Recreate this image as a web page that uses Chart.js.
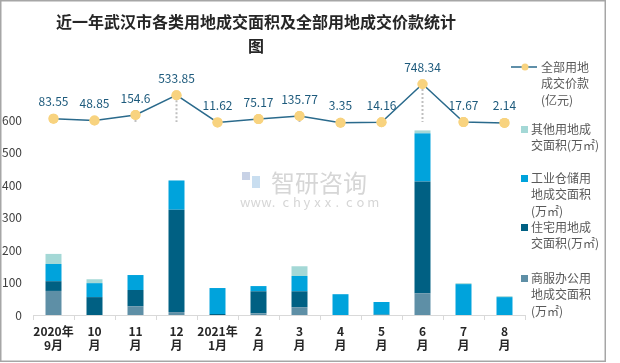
<!DOCTYPE html>
<html>
<head>
<meta charset="utf-8">
<script src="https://cdn.jsdelivr.net/npm/chart.js@4/dist/chart.umd.min.js"></script>
<style>
  body { margin: 0; background: #fff; }
  #wrap { width: 620px; height: 363px; position: relative; }
</style>
</head>
<body>
<div id="wrap"><canvas id="myChart" width="620" height="363"></canvas></div>
<script>
// categories
var months = [['2020年', '9月'], ['10', '月'], ['11', '月'], ['12', '月'], ['2021年', '1月'], ['2', '月'],
  ['3', '月'], ['4', '月'], ['5', '月'], ['6', '月'], ['7', '月'], ['8', '月']];
// land area (万㎡)
var shangfu = [74, 0, 27, 9, 0, 5, 24, 0, 0, 67, 0, 0];
var zhuzhai = [30, 55, 50, 315, 3, 68, 49, 0, 1, 344, 0, 0];
var gongye = [53, 43, 46, 90, 80, 16, 47, 64, 39, 148, 95, 55];
var qita = [31, 12, 0, 0, 0, 0, 30, 0, 0, 9, 3, 3];
// total price (亿元)
var jiakuan = [83.55, 48.85, 154.6, 533.85, 11.62, 75.17, 135.77, 3.35, 14.16, 748.34, 17.67, 2.14];

var FONT = '"Noto Sans CJK SC", "Noto Sans", sans-serif';

var legendItems = [
  { type: 'line', y: 67, lines: ['全部用地', '成交价款', '(亿元)'] },
  { color: '#a4d8d6', y: 129, lines: ['其他用地成', '交面积(万㎡)'] },
  { color: '#00a3dc', y: 178, lines: ['工业仓储用', '地成交面积', '(万㎡)'] },
  { color: '#006083', y: 227, lines: ['住宅用地成', '交面积(万㎡)'] },
  { color: '#5e8fa6', y: 278, lines: ['商服办公用', '地成交面积', '(万㎡)'] }
];

var extras = {
  id: 'extras',
  beforeDraw: function(chart) {
    var ctx = chart.ctx;
    ctx.save();
    // watermark
    ctx.fillStyle = '#d6d6d6';
    ctx.font = '24px ' + FONT;
    ctx.textBaseline = 'middle';
    ctx.textAlign = 'left';
    ctx.fillText('智研咨询', 271, 183);
    ctx.font = '13px ' + FONT;
    var w = 'www.chyxx.com'.split('');
    for (var i = 0; i < w.length; i++) ctx.fillText(w[i], 240 + i * 10.6, 202);
    ctx.fillStyle = '#c8d2e6';
    ctx.fillRect(242, 172, 8, 8);
    ctx.fillStyle = '#c9def0';
    ctx.fillRect(252, 176, 8, 12);
    ctx.restore();
  },
  afterDraw: function(chart) {
    var ctx = chart.ctx;
    ctx.save();
    // border
    ctx.strokeStyle = '#a6a6a6';
    ctx.lineWidth = 1.5;
    ctx.strokeRect(0.75, 0.75, 604.5, 360.5);
    // title
    ctx.fillStyle = '#262626';
    ctx.font = 'bold 16px ' + FONT;
    ctx.textAlign = 'center';
    ctx.textBaseline = 'middle';
    ctx.fillText('近一年武汉市各类用地成交面积及全部用地成交价款统计', 256, 22);
    ctx.fillText('图', 256, 46);

    // drop lines and value labels for the line
    var meta = chart.getDatasetMeta(0);
    var y1 = chart.scales.y1;
    var base = y1.getPixelForValue(0);
    meta.data.forEach(function(pt, i) {
      if (jiakuan[i] > 100) {
        ctx.strokeStyle = '#bfbfbf';
        ctx.lineWidth = 2;
        ctx.setLineDash([2, 2]);
        ctx.beginPath();
        ctx.moveTo(pt.x, pt.y + 5);
        ctx.lineTo(pt.x, base - 1);
        ctx.stroke();
        ctx.setLineDash([]);
      }
    });
    // redraw points above the drop lines
    meta.data.forEach(function(pt) {
      ctx.fillStyle = '#f8d37f';
      ctx.beginPath();
      ctx.arc(pt.x, pt.y, 5, 0, Math.PI * 2);
      ctx.fill();
    });
    ctx.fillStyle = '#1d5a7c';
    ctx.font = '12px ' + FONT;
    meta.data.forEach(function(pt, i) {
      ctx.fillText(String(jiakuan[i]), pt.x, pt.y - 17);
    });

    // legend
    ctx.textAlign = 'left';
    ctx.font = '12px ' + FONT;
    legendItems.forEach(function(it) {
      if (it.type === 'line') {
        ctx.strokeStyle = '#2a6a8c';
        ctx.lineWidth = 1.5;
        ctx.beginPath();
        ctx.moveTo(511, it.y);
        ctx.lineTo(537, it.y);
        ctx.stroke();
        ctx.fillStyle = '#f8d37f';
        ctx.beginPath();
        ctx.arc(525, it.y, 3.5, 0, Math.PI * 2);
        ctx.fill();
        ctx.fillStyle = '#595959';
        it.lines.forEach(function(t, k) { ctx.fillText(t, 541, it.y + k * 16.5); });
      } else {
        ctx.fillStyle = it.color;
        ctx.fillRect(521, it.y - 3, 7, 7);
        ctx.fillStyle = '#595959';
        it.lines.forEach(function(t, k) { ctx.fillText(t, 531, it.y + k * 16.5); });
      }
    });
    ctx.restore();
  }
};

new Chart(document.getElementById('myChart'), {
  type: 'bar',
  data: {
    labels: months,
    datasets: [
      { label: '全部用地成交价款(亿元)', type: 'line', data: jiakuan, yAxisID: 'y1', order: 0,
        borderColor: '#2a6a8c', borderWidth: 1.5, pointRadius: 5, pointBackgroundColor: '#f8d37f',
        pointBorderWidth: 0, tension: 0, stack: 'line' },
      { label: '商服办公用地成交面积(万㎡)', data: shangfu, backgroundColor: '#5e8fa6', order: 1, stack: 'a' },
      { label: '住宅用地成交面积(万㎡)', data: zhuzhai, backgroundColor: '#006083', order: 1, stack: 'a' },
      { label: '工业仓储用地成交面积(万㎡)', data: gongye, backgroundColor: '#00a3dc', order: 1, stack: 'a' },
      { label: '其他用地成交面积(万㎡)', data: qita, backgroundColor: '#a4d8d6', order: 1, stack: 'a' }
    ]
  },
  options: {
    responsive: false,
    animation: false,
    devicePixelRatio: 1,
    layout: { padding: { left: 0, right: 95, top: 82, bottom: 0 } },
    datasets: { bar: { barPercentage: 0.39, categoryPercentage: 1 } },
    plugins: { legend: { display: false }, tooltip: { enabled: false } },
    scales: {
      x: {
        stacked: true,
        grid: { display: true, offset: true, drawOnChartArea: false, tickLength: 5, color: '#d9d9d9' },
        border: { color: '#d9d9d9' },
        ticks: { color: '#262626', font: { family: FONT, size: 12, weight: 'bold' }, padding: 4,
          maxRotation: 0, autoSkip: false },
        afterFit: function(s) { s.height = 48; }
      },
      y: {
        stacked: true,
        min: 0, max: 717,
        grid: { display: false },
        border: { display: false },
        ticks: {
          stepSize: 100, padding: 3, color: '#404040', font: { family: FONT, size: 12 },
          callback: function(v) { return v <= 600 ? v : ''; }
        },
        afterFit: function(s) { s.width = 33; }
      },
      y1: { display: false, position: 'right', min: -3684, max: 787 }
    }
  },
  plugins: [extras]
});
</script>
</body>
</html>
